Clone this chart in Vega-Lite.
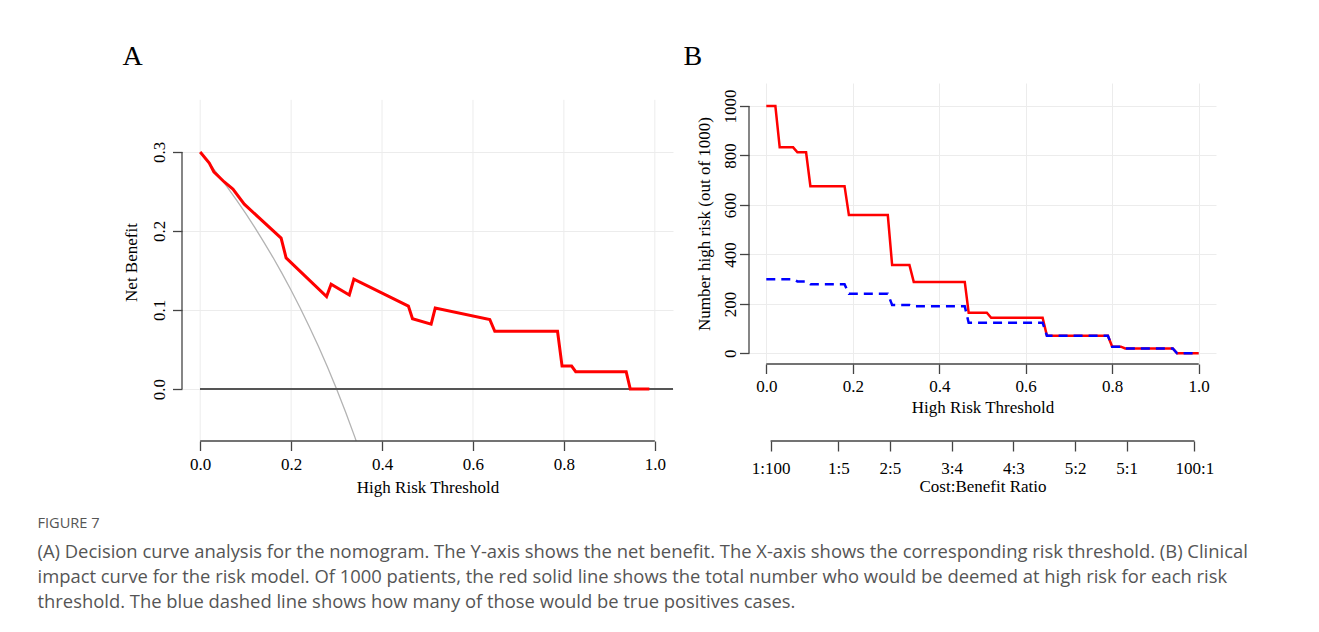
{
  "$schema": "https://vega.github.io/schema/vega-lite/v6.json",
  "background": "white",
  "padding": {"left": 37, "top": 43, "right": 10, "bottom": 10},
  "config": {
    "font": "Liberation Serif",
    "view": {"stroke": null},
    "axis": {
      "labelFont": "Liberation Serif", "titleFont": "Liberation Serif",
      "labelFontSize": 17, "titleFontSize": 17, "titleFontWeight": "normal",
      "labelColor": "#000", "titleColor": "#000",
      "tickColor": "#444", "tickWidth": 1.3, "tickSize": 9.5,
      "domain": false, "labelFlush": false, "labelOverlap": false, "labelBound": false,
      "gridColor": "#ececec", "gridWidth": 1
    },
    "title": {"font": "Liberation Serif", "fontSize": 28, "fontWeight": "normal", "anchor": "start", "frame": "bounds", "color": "#000"}
  },
  "datasets": {
    "gridA": [{"t": 0}, {"t": 0.2}, {"t": 0.4}, {"t": 0.6}, {"t": 0.8}, {"t": 1.0}],
    "treatAll": [
      {"t": 0, "v": 0.3}, {"t": 0.02, "v": 0.2857}, {"t": 0.04, "v": 0.2708}, {"t": 0.06, "v": 0.2553},
      {"t": 0.08, "v": 0.2391}, {"t": 0.10, "v": 0.2222}, {"t": 0.12, "v": 0.2045}, {"t": 0.14, "v": 0.186},
      {"t": 0.16, "v": 0.1667}, {"t": 0.18, "v": 0.1463}, {"t": 0.20, "v": 0.125}, {"t": 0.22, "v": 0.1026},
      {"t": 0.24, "v": 0.0789}, {"t": 0.26, "v": 0.0541}, {"t": 0.28, "v": 0.0278}, {"t": 0.30, "v": 0},
      {"t": 0.32, "v": -0.0294}, {"t": 0.34, "v": -0.0606}, {"t": 0.36, "v": -0.0938}
    ],
    "modelA": [
      {"t": 0, "v": 0.300}, {"t": 0.02, "v": 0.286}, {"t": 0.03, "v": 0.275}, {"t": 0.053, "v": 0.262},
      {"t": 0.072, "v": 0.253}, {"t": 0.097, "v": 0.234}, {"t": 0.178, "v": 0.191}, {"t": 0.189, "v": 0.166},
      {"t": 0.278, "v": 0.117}, {"t": 0.288, "v": 0.1325}, {"t": 0.328, "v": 0.119}, {"t": 0.338, "v": 0.139},
      {"t": 0.458, "v": 0.105}, {"t": 0.467, "v": 0.089}, {"t": 0.508, "v": 0.082}, {"t": 0.517, "v": 0.1025},
      {"t": 0.637, "v": 0.088}, {"t": 0.648, "v": 0.073}, {"t": 0.786, "v": 0.073}, {"t": 0.796, "v": 0.029},
      {"t": 0.817, "v": 0.029}, {"t": 0.826, "v": 0.022}, {"t": 0.937, "v": 0.022}, {"t": 0.946, "v": 0.0},
      {"t": 0.988, "v": 0.0}
    ],
    "cicRed": [
      {"t": 0, "v": 1000}, {"t": 0.021, "v": 1000}, {"t": 0.031, "v": 833}, {"t": 0.062, "v": 833},
      {"t": 0.072, "v": 813}, {"t": 0.092, "v": 813}, {"t": 0.102, "v": 676}, {"t": 0.181, "v": 676},
      {"t": 0.191, "v": 559}, {"t": 0.281, "v": 559}, {"t": 0.291, "v": 357}, {"t": 0.331, "v": 357},
      {"t": 0.341, "v": 289}, {"t": 0.459, "v": 289}, {"t": 0.468, "v": 164}, {"t": 0.510, "v": 164},
      {"t": 0.520, "v": 144}, {"t": 0.639, "v": 144}, {"t": 0.649, "v": 71}, {"t": 0.790, "v": 71},
      {"t": 0.800, "v": 27}, {"t": 0.820, "v": 27}, {"t": 0.830, "v": 20}, {"t": 0.940, "v": 20},
      {"t": 0.950, "v": 0}, {"t": 1.0, "v": 0}
    ],
    "cicBlue": [
      {"t": 0, "v": 300}, {"t": 0.062, "v": 300}, {"t": 0.072, "v": 291}, {"t": 0.092, "v": 291},
      {"t": 0.102, "v": 279}, {"t": 0.181, "v": 279}, {"t": 0.191, "v": 241}, {"t": 0.281, "v": 241},
      {"t": 0.291, "v": 196}, {"t": 0.331, "v": 196}, {"t": 0.341, "v": 190}, {"t": 0.459, "v": 190},
      {"t": 0.468, "v": 124}, {"t": 0.639, "v": 124}, {"t": 0.649, "v": 71}, {"t": 0.790, "v": 71},
      {"t": 0.800, "v": 27}, {"t": 0.820, "v": 27}, {"t": 0.830, "v": 20}, {"t": 0.940, "v": 20},
      {"t": 0.950, "v": 0}, {"t": 1.0, "v": 0}
    ],
    "ratioTicks": [{"t": 0.0099}]
  },
  "title": {
    "text": "FIGURE 7",
    "subtitle": [
      "(A) Decision curve analysis for the nomogram. The Y-axis shows the net benefit. The X-axis shows the corresponding risk threshold. (B) Clinical",
      "impact curve for the risk model. Of 1000 patients, the red solid line shows the total number who would be deemed at high risk for each risk",
      "threshold. The blue dashed line shows how many of those would be true positives cases."
    ],
    "orient": "bottom", "anchor": "start", "frame": "bounds",
    "font": "Open Sans", "fontSize": 14.6, "fontWeight": "normal", "color": "#555",
    "subtitleFont": "Open Sans", "subtitleFontSize": 18.4, "subtitleColor": "#555",
    "subtitleLineHeight": 25, "subtitlePadding": 12.4, "offset": 20, "dx": -85
  },
  "spacing": 9,
  "hconcat": [
    {
      "width": 491, "height": 358,
      "title": {"text": "A", "offset": 12},
      "layer": [
        {
          "data": {"name": "gridA"},
          "mark": {"type": "rule", "color": "#ececec", "strokeWidth": 1},
          "encoding": {
            "x": {"field": "t", "type": "quantitative", "scale": {"domain": [-0.04, 1.04], "nice": false, "zero": false},
                  "axis": {"values": [0, 0.2, 0.4, 0.6, 0.8, 1.0], "format": ".1f", "grid": false, "title": "High Risk Threshold", "labelPadding": 5.5, "titlePadding": 7.5}},
            "y": {"datum": -0.0658, "type": "quantitative", "scale": {"domain": [-0.0658, 0.3873], "nice": false, "zero": false},
                  "axis": {"values": [0, 0.1, 0.2, 0.3], "format": ".1f", "grid": true, "title": "Net Benefit", "labelAngle": 270, "labelAlign": "center", "labelBaseline": "bottom", "labelPadding": 4, "titlePadding": 10}},
            "y2": {"datum": 0.366}
          }
        },
        {
          "data": {"name": "treatAll"},
          "mark": {"type": "line", "color": "#b3b3b3", "strokeWidth": 1.3, "clip": true},
          "encoding": {
            "x": {"field": "t", "type": "quantitative", "scale": {"domain": [-0.04, 1.04], "nice": false, "zero": false}},
            "y": {"field": "v", "type": "quantitative", "scale": {"domain": [-0.0658, 0.3873], "nice": false, "zero": false}}
          }
        },
        {
          "data": {"name": "gridA"},
          "mark": {"type": "rule", "color": "#555", "strokeWidth": 2},
          "encoding": {
            "x": {"datum": 0, "type": "quantitative", "scale": {"domain": [-0.04, 1.04], "nice": false, "zero": false}},
            "x2": {"datum": 1.04},
            "y": {"datum": 0, "type": "quantitative", "scale": {"domain": [-0.0658, 0.3873], "nice": false, "zero": false}}
          }
        },
        {
          "data": {"name": "modelA"},
          "mark": {"type": "line", "color": "#ff0000", "strokeWidth": 3},
          "encoding": {
            "x": {"field": "t", "type": "quantitative", "scale": {"domain": [-0.04, 1.04], "nice": false, "zero": false}},
            "y": {"field": "v", "type": "quantitative", "scale": {"domain": [-0.0658, 0.3873], "nice": false, "zero": false}}
          }
        },
        {
          "data": {"name": "ratioTicks"},
          "mark": {"type": "rule", "color": "#444", "strokeWidth": 1.3},
          "encoding": {
            "x": {"datum": -0.04, "type": "quantitative", "scale": {"domain": [-0.04, 1.04], "nice": false, "zero": false}},
            "y": {"datum": 0, "type": "quantitative", "scale": {"domain": [-0.0658, 0.3873], "nice": false, "zero": false}},
            "y2": {"datum": 0.3}
          }
        },
        {
          "data": {"name": "ratioTicks"},
          "mark": {"type": "rule", "color": "#444", "strokeWidth": 1.3},
          "encoding": {
            "x": {"datum": 0, "type": "quantitative", "scale": {"domain": [-0.04, 1.04], "nice": false, "zero": false}},
            "x2": {"datum": 1.0},
            "y": {"datum": -0.0658, "type": "quantitative", "scale": {"domain": [-0.0658, 0.3873], "nice": false, "zero": false}}
          }
        }
      ]
    },
    {
      "spacing": 16,
      "vconcat": [
        {
          "width": 467, "height": 281,
          "title": {"text": "B", "offset": 12, "dx": -12},
          "layer": [
            {
              "data": {"name": "cicRed"},
              "mark": {"type": "line", "color": "#ff0000", "strokeWidth": 2.5},
              "encoding": {
                "x": {"field": "t", "type": "quantitative", "scale": {"domain": [-0.04, 1.04], "nice": false, "zero": false},
                      "axis": {"values": [0, 0.2, 0.4, 0.6, 0.8, 1.0], "format": ".1f", "grid": true, "title": "High Risk Threshold", "labelPadding": 4.5, "titlePadding": 5}},
                "y": {"field": "v", "type": "quantitative", "scale": {"domain": [-43, 1093], "nice": false, "zero": false},
                      "axis": {"values": [0, 200, 400, 600, 800, 1000], "format": "d", "grid": true, "title": "Number high risk (out of 1000)", "labelAngle": 270, "labelAlign": "center", "labelBaseline": "bottom", "labelPadding": 0, "titlePadding": 8}}
              }
            },
            {
              "data": {"name": "cicBlue"},
              "mark": {"type": "line", "color": "#0000ff", "strokeWidth": 2.5, "strokeDash": [9, 6]},
              "encoding": {
                "x": {"field": "t", "type": "quantitative", "scale": {"domain": [-0.04, 1.04], "nice": false, "zero": false}},
                "y": {"field": "v", "type": "quantitative", "scale": {"domain": [-43, 1093], "nice": false, "zero": false}}
              }
            },
            {
              "data": {"name": "ratioTicks"},
              "mark": {"type": "rule", "color": "#444", "strokeWidth": 1.3},
              "encoding": {
                "x": {"datum": -0.04, "type": "quantitative", "scale": {"domain": [-0.04, 1.04], "nice": false, "zero": false}},
                "y": {"datum": 0, "type": "quantitative", "scale": {"domain": [-43, 1093], "nice": false, "zero": false}},
                "y2": {"datum": 1000}
              }
            },
            {
              "data": {"name": "ratioTicks"},
              "mark": {"type": "rule", "color": "#444", "strokeWidth": 1.3},
              "encoding": {
                "x": {"datum": 0, "type": "quantitative", "scale": {"domain": [-0.04, 1.04], "nice": false, "zero": false}},
                "x2": {"datum": 1.0},
                "y": {"datum": -43, "type": "quantitative", "scale": {"domain": [-43, 1093], "nice": false, "zero": false}}
              }
            }
          ]
        },
        {
          "width": 467, "height": 10,
          "data": {"name": "ratioTicks"},
          "mark": {"type": "rule", "color": "#444", "strokeWidth": 1.3},
          "encoding": {
            "x": {"datum": 0.0099, "type": "quantitative", "scale": {"domain": [-0.04, 1.04], "nice": false, "zero": false},
                  "axis": {"values": [0.0099, 0.1667, 0.2857, 0.4286, 0.5714, 0.7143, 0.8333, 0.9901], "grid": false, "tickSize": 10, "labelPadding": 9.5, "titlePadding": 2, "title": "Cost:Benefit Ratio",
                           "labelExpr": "datum.value < 0.1 ? '1:100' : datum.value < 0.2 ? '1:5' : datum.value < 0.3 ? '2:5' : datum.value < 0.5 ? '3:4' : datum.value < 0.6 ? '4:3' : datum.value < 0.75 ? '5:2' : datum.value < 0.9 ? '5:1' : '100:1'"}},
            "x2": {"datum": 0.9901},
            "y": {"datum": 0, "type": "quantitative", "scale": {"domain": [0, 1]}, "axis": null}
          }
        }
      ]
    }
  ]
}
